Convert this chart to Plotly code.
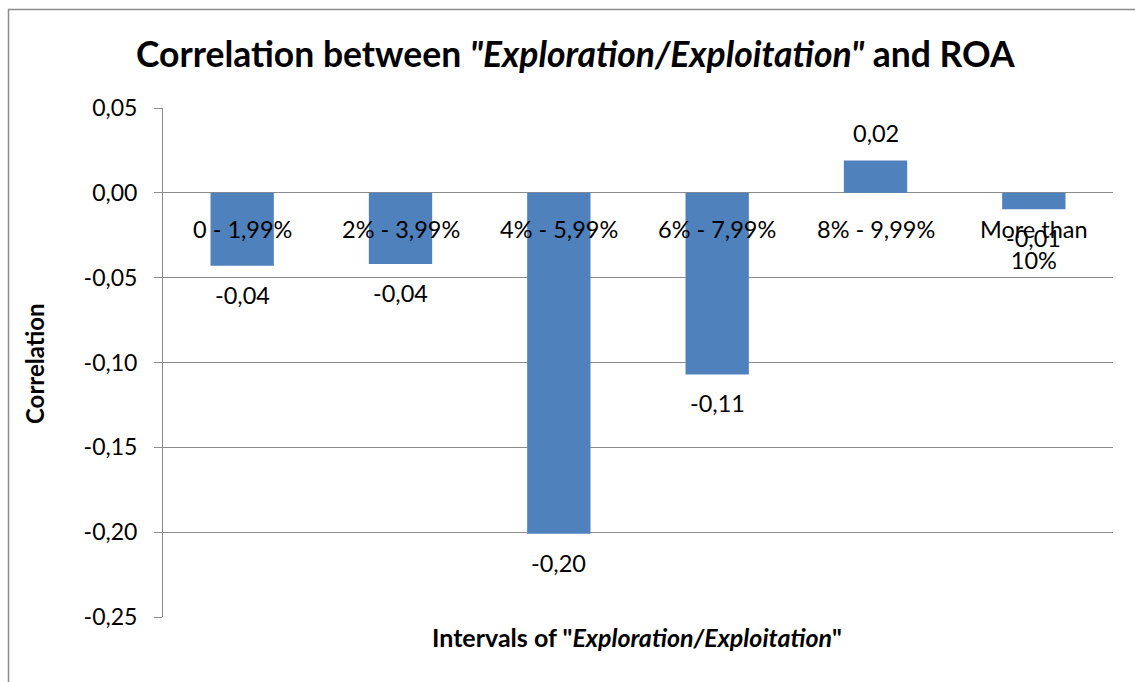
import plotly.graph_objects as go

# Correlation of each exploration/exploitation interval with ROA
categories = ["0 - 1,99%", "2% - 3,99%", "4% - 5,99%", "6% - 7,99%", "8% - 9,99%", "More than<br>10%"]
correlations = [-0.043, -0.042, -0.201, -0.107, 0.019, -0.0097]

y_tick_values = [0.05, 0.0, -0.05, -0.10, -0.15, -0.20, -0.25]
y_tick_labels = ["0,05", "0,00", "-0,05", "-0,10", "-0,15", "-0,20", "-0,25"]

FONT = "Lato"
GRID = "#8c8c8c"
BAR = "#4f81bd"

W, H = 1135, 682
M_L, M_R, M_T, M_B = 163, 22, 108, 65
plot_w = W - M_L - M_R
plot_h = H - M_T - M_B


def px_x(p):
    return (p - M_L) / plot_w


def px_y(p):
    return (H - M_B - p) / plot_h


def fmt(v):
    return f"{v:.2f}".replace(".", ",")


fig = go.Figure(
    go.Bar(
        x=categories,
        y=correlations,
        width=0.4,
        marker=dict(color=BAR, line=dict(width=0)),
        hoverinfo="skip",
    )
)

annotations = []
# value labels just beyond each bar end
for cat, v in zip(categories, correlations):
    annotations.append(dict(
        x=cat, y=v, xref="x", yref="y", text=fmt(v), showarrow=False,
        yanchor="middle", yshift=28 if v >= 0 else -29,
        font=dict(family=FONT, size=23.5, color="black"),
    ))
# category labels sit just under the zero line
for cat in categories:
    annotations.append(dict(
        x=cat, y=0, xref="x", yref="y", text=cat, showarrow=False,
        yanchor="top", yshift=-20,
        font=dict(family=FONT, size=23.5, color="black"),
    ))

annotations += [
    dict(text='<b>Correlation between <i>"Exploration/Exploitation"</i> and ROA</b>',
         x=px_x(575), y=px_y(54), xref="paper", yref="paper",
         xanchor="center", yanchor="middle", showarrow=False,
         font=dict(family=FONT, size=35.5, color="black")),
    dict(text="<b>Correlation</b>", textangle=-90,
         x=px_x(34), y=px_y(364), xref="paper", yref="paper",
         xanchor="center", yanchor="middle", showarrow=False,
         font=dict(family=FONT, size=24, color="black")),
    dict(text='<b>Intervals of "<i>Exploration/Exploitation</i>"</b>',
         x=px_x(637), y=px_y(637), xref="paper", yref="paper",
         xanchor="center", yanchor="middle", showarrow=False,
         font=dict(family=FONT, size=25, color="black")),
]

fig.update_layout(
    width=W, height=H,
    margin=dict(l=M_L, r=M_R, t=M_T, b=M_B),
    paper_bgcolor="white", plot_bgcolor="white",
    showlegend=False,
    annotations=annotations,
    shapes=[dict(type="rect", xref="paper", yref="paper",
                 x0=px_x(8.5), x1=px_x(W + 40), y0=px_y(H + 40), y1=px_y(9.5),
                 line=dict(color=GRID, width=1.5), layer="below")],
    font=dict(family=FONT, size=23, color="black"),
)

fig.update_xaxes(showticklabels=False, showgrid=False, zeroline=False,
                 showline=False, ticks="")
fig.update_yaxes(
    range=[-0.25, 0.05],
    tickvals=y_tick_values, ticktext=y_tick_labels,
    showgrid=True, gridcolor=GRID, gridwidth=1,
    zeroline=True, zerolinecolor=GRID, zerolinewidth=1,
    showline=True, linecolor=GRID, linewidth=1,
    ticks="outside", ticklen=8, tickcolor=GRID,
    ticklabelstandoff=12,
    tickfont=dict(family=FONT, size=23, color="black"),
)

fig.write_html("out.html")
